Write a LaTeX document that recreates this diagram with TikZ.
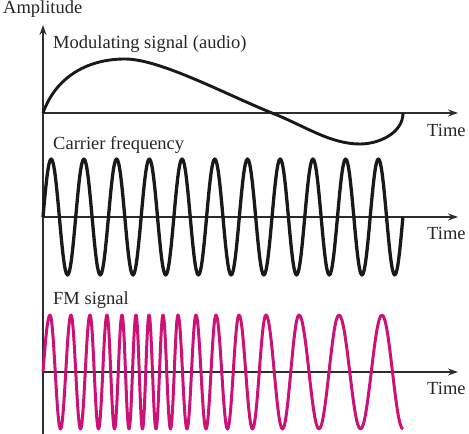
\documentclass[tikz,border=0pt]{standalone}
\usepackage{fontspec}
\setmainfont{Liberation Serif}
\usetikzlibrary{arrows.meta}
\definecolor{fmpink}{RGB}{204,17,119}
\definecolor{axisgray}{RGB}{45,45,45}

\begin{document}
\begin{tikzpicture}[x=1pt, y=1pt,
    axis/.style={draw=axisgray, line width=1.5pt, -{Stealth[length=10pt, width=7pt]}},
    lbl/.style={anchor=base west, inner sep=0pt, text=black!85,
                font=\fontsize{18.5}{22}\selectfont},
    wave/.style={line width=2.9pt, black!90, line join=round},
    fmwave/.style={line width=3pt, fmpink, line join=round}]
          \useasboundingbox (0,0) rectangle (469,434);

          \coordinate (bot) at (43,0);
          \coordinate (top) at (43,409);
          \coordinate (o1) at (43,321);
          \coordinate (e1) at (458,321);
          \coordinate (o2) at (43,217);
          \coordinate (e2) at (458,217);
          \coordinate (o3) at (43,62);
          \coordinate (e3) at (458,62);

          \draw[axis] (bot) -- (top);
          \draw[axis] (o1) -- (e1);
          \draw[axis] (o2) -- (e2);
          \draw[axis] (o3) -- (e3);

          \node (amp)   at (3,420)   [lbl] {Amplitude};
          \node (mod)   at (53,385)  [lbl] {Modulating signal (audio)};
          \node (car)   at (53,284)  [lbl] {Carrier frequency};
          \node (fm)    at (53,129)  [lbl] {FM signal};
          \node (time1) at (427,297) [lbl] {Time};
          \node (time2) at (427,194) [lbl] {Time};
          \node (time3) at (427,39)  [lbl] {Time};

          \draw[wave] (o1) .. controls (55,355) and (85,375) .. (125,375)
                .. controls (160,375) and (225,340) .. (272,321)
                .. controls (305,308) and (330,290) .. (360,290)
                .. controls (379,290) and (403,301) .. (403,321);

          \draw[wave, line width=3.3pt] (o2) \foreach \i in {0,...,10} {
                sin ++(8.18,58) cos ++(8.18,-58) sin ++(8.18,-58) cos ++(8.18,58)};

          \draw[fmwave] (o3) sin (50,119)
                \foreach \t/\p [remember=\p as \lp (initially 50)] in
                {60.5/71, 80.5/90, 98.5/107, 114.5/122, 129/136, 142.5/149,
                 156/163, 170.5/178, 187/196, 206/216, 227.5/239, 252.5/266,
                 282.5/299, 319/339, 360.5/382} {
                cos ({(\lp+\t)/2},62) sin (\t,5) cos ({(\t+\p)/2},62) sin (\p,119)}
                cos (392.5,62) sin (403,5);
        \end{tikzpicture}
\end{document}
